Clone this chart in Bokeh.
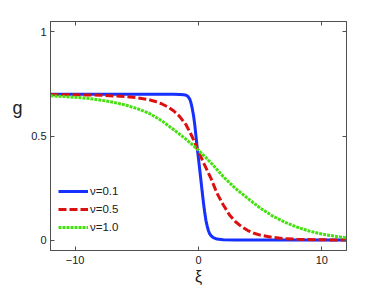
from bokeh.plotting import figure
from bokeh.models import (LinearAxis, FixedTicker, Legend, LegendItem, Range1d)
from bokeh.embed import file_html
from bokeh.resources import INLINE

# ---- data ----
blue_x = [-12, -6, -3, -2, -1.5, -1.2, -1.0, -0.85, -0.7, -0.6, -0.5, -0.4, -0.3,
          -0.2, -0.1, 0.0, 0.1, 0.2, 0.3, 0.4, 0.5, 0.6, 0.7, 0.8, 0.9, 1.0,
          1.2, 1.5, 2.0, 3.0, 6.0, 12]
blue_g = [0.700, 0.700, 0.700, 0.700, 0.699, 0.698, 0.696, 0.690, 0.676, 0.657,
          0.630, 0.597, 0.552, 0.497, 0.440, 0.390, 0.338, 0.285, 0.232, 0.180,
          0.135, 0.095, 0.068, 0.046, 0.031, 0.022, 0.012, 0.005, 0.0015,
          0.0003, 0.0, 0.0]

red_x = [-12, -10, -8, -6, -5, -4, -3.5, -3, -2.5, -2, -1.5, -1, -0.5, 0, 0.5,
         1, 1.5, 2, 2.5, 3, 3.5, 4, 4.5, 5, 6, 7, 8, 10, 12]
red_g = [0.699, 0.698, 0.696, 0.690, 0.684, 0.674, 0.666, 0.655, 0.640, 0.620,
         0.592, 0.553, 0.495, 0.425, 0.360, 0.298, 0.225, 0.170, 0.122, 0.088,
         0.064, 0.046, 0.033, 0.024, 0.013, 0.007, 0.004, 0.0013, 0.0004]

green_x = [-12, -11, -10, -9, -8, -7, -6, -5, -4, -3, -2, -1, 0, 1, 2, 3, 4, 5,
           6, 7, 8, 9, 10, 11, 12]
green_g = [0.693, 0.690, 0.686, 0.681, 0.673, 0.663, 0.650, 0.632, 0.609, 0.574,
           0.530, 0.484, 0.432, 0.372, 0.305, 0.248, 0.200, 0.154, 0.116, 0.086,
           0.062, 0.043, 0.029, 0.019, 0.011]

series_labels = ["\u03bd=0.1", "\u03bd=0.5", "\u03bd=1.0"]
x_ticks = [-10, 0, 10]
x_tick_labels = ["\u221210", "0", "10"]
y_ticks = [0, 0.5, 1]
y_tick_labels = ["0", "0.5", "1"]
x_label = "\u03be"
y_label = "g"
y_label_pos = 0.635

FONT = "Liberation Sans"
AX = "#505050"
TXT = "#202020"

p = figure(width=375, height=288, output_backend="svg", toolbar_location=None,
           x_range=Range1d(-12, 12), y_range=Range1d(-0.05, 1.05),
           min_border_left=50, min_border_top=21, min_border_right=29,
           min_border_bottom=38, x_axis_location=None, y_axis_location=None)
p.grid.visible = False
p.outline_line_color = AX
p.outline_line_width = 1
p.background_fill_color = "white"
p.border_fill_color = "white"

def make_axis(ticks, labels, show):
    ax = LinearAxis(ticker=FixedTicker(ticks=ticks))
    ax.major_tick_in = 4
    ax.major_tick_out = 0
    ax.minor_tick_in = 0
    ax.minor_tick_out = 0
    ax.axis_line_color = AX
    ax.major_tick_line_color = AX
    ax.major_label_text_font = FONT
    ax.major_label_text_color = TXT
    ax.major_label_text_font_size = "11px"
    if show:
        ax.major_label_overrides = {t: l for t, l in zip(ticks, labels)}
    else:
        ax.major_label_overrides = {t: "" for t in ticks}
        ax.major_label_standoff = 0
    return ax

bx = make_axis(x_ticks, x_tick_labels, True)
bx.major_label_standoff = 5
bx.axis_label = x_label
bx.axis_label_text_font = FONT
bx.axis_label_text_font_style = "normal"
bx.axis_label_text_font_size = "16px"
bx.axis_label_text_color = TXT
bx.axis_label_standoff = 1
p.add_layout(bx, "below")

ly = make_axis(y_ticks, y_tick_labels, True)
ly.major_label_standoff = 4
p.add_layout(ly, "left")

# outer left axis carrying the horizontal "g" label at its reference height
gy = LinearAxis(ticker=FixedTicker(ticks=[y_label_pos]))
gy.major_label_overrides = {y_label_pos: y_label}
gy.major_tick_in = 0
gy.major_tick_out = 0
gy.minor_tick_in = 0
gy.minor_tick_out = 0
gy.axis_line_color = None
gy.major_label_standoff = 6
gy.major_label_text_font = FONT
gy.major_label_text_font_size = "18px"
gy.major_label_text_color = TXT
p.add_layout(gy, "left")

p.add_layout(make_axis(x_ticks, x_tick_labels, False), "above")
p.add_layout(make_axis(y_ticks, y_tick_labels, False), "right")

r1 = p.line(blue_x, blue_g, line_color="#1530ff", line_width=3)
r2 = p.line(red_x, red_g, line_color="#dd1010", line_width=3, line_dash="8 3")
r3 = p.line(green_x, green_g, line_color="#44e010", line_width=3, line_dash="3 1")

legend = Legend(items=[LegendItem(label=series_labels[0], renderers=[r1]),
                       LegendItem(label=series_labels[1], renderers=[r2]),
                       LegendItem(label=series_labels[2], renderers=[r3])],
                location=(8, 16), orientation="vertical",
                glyph_width=30, glyph_height=14, label_height=14,
                label_standoff=2, spacing=4, padding=0, margin=0,
                border_line_color=None, background_fill_alpha=0,
                label_text_font=FONT, label_text_font_size="11.5px",
                label_text_color=TXT)
p.add_layout(legend, "center")

open("out.html", "w").write(file_html(p, INLINE))
